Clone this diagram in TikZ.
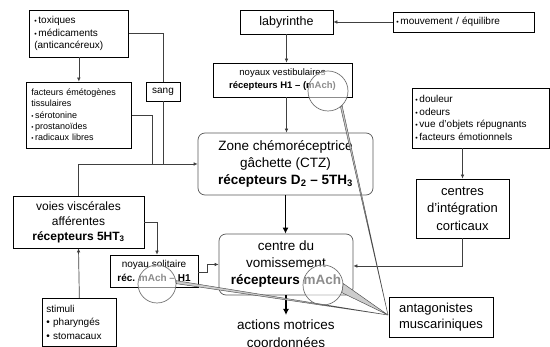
\documentclass[tikz,border=0pt]{standalone}
\usepackage{fontspec}
\setmainfont{Liberation Sans}
\usetikzlibrary{arrows.meta}
\newcommand\bul{\scalebox{0.7}{•}\,}
\newcommand\fs[2]{\fontsize{#1}{#2}\selectfont}

\begin{document}
\begin{tikzpicture}[x=1pt,y=-1pt,
  box/.style={draw=black, line width=0.7pt, inner sep=0pt, align=center, text=black},
  lbox/.style={box, align=left, inner xsep=#1},
  rbox/.style={box, draw=black!65, rounded corners=7pt},
  conn/.style={draw=black!75, line width=0.7pt},
  arr/.style={conn, -{Latex[length=4pt,width=3.6pt]}},
  bigarr/.style={draw=black, line width=1.6pt, -{Latex[length=6pt,width=6pt]}},
  lens/.style={circle, inner sep=0pt, minimum size=#1, draw=black!55, line width=0.7pt,
               fill=white, fill opacity=0.55},
  wedge/.style={draw=black!70, line width=0.45pt, fill=black!20},
]
\fill[white] (0,0) rectangle (550,347);
\useasboundingbox (0,0) rectangle (550,347);

% --- boxes ---------------------------------------------------------------
\node[lbox=5pt, anchor=west, text width=89, minimum height=47, font=\fs{10}{12.5}] (tox) at (29,33.5)
  {\bul toxiques\\ \bul médicaments\\ (anticancéreux)};
\node[lbox=5pt, anchor=west, text width=95, minimum height=66, font=\fs{9}{11.3}] (fact) at (26,115)
  {facteurs émétogènes\\ tissulaires\\ \bul sérotonine\\ \bul prostanoïdes\\ \bul radicaux libres};
\node[box, minimum width=34, minimum height=19, font=\fs{10}{12}] (sang) at (163,91.5) {sang};

\node[box, minimum width=93, minimum height=24, font=\fs{12.5}{15}] (laby) at (286.5,22) {labyrinthe};
\node[lbox=3pt, anchor=west, text width=135, minimum height=20, font=\fs{10}{12}] (mouv) at (393,22)
  {\bul mouvement / équilibre};
\node[box, minimum width=139, minimum height=34, font=\fs{9.5}{13}] (vest) at (282.5,80)
  {noyaux vestibulaires\\ \textbf{récepteurs H1 – (mAch)}};

\node[rbox, minimum width=175, minimum height=62, font=\fs{13.5}{17}] (ctz) at (285.5,164)
  {Zone chémoréceptrice\\ gâchette (CTZ)\\ \textbf{récepteurs D\textsubscript{2} – 5TH\textsubscript{3}}};

\node[lbox=3pt, anchor=west, text width=131, minimum height=60, font=\fs{10}{12.8}] (doul) at (412,118)
  {\bul douleur\\ \bul odeurs\\ \bul vue d'objets répugnants\\ \bul facteurs émotionnels};
\node[box, minimum width=93, minimum height=59, font=\fs{13}{17.5}] (cent) at (462.5,208.5)
  {centres\\ d'intégration\\ corticaux};
\node[box, align=left, minimum width=104, minimum height=40, font=\fs{13}{16}] (anta) at (441,317)
  {antagonistes\\ muscariniques};

\node[rbox, minimum width=134, minimum height=61, font=\fs{13.5}{17}] (cdv) at (286,264.5)
  {centre du\\ vomissement\\ \textbf{récepteurs mAch}};
\node[align=center, inner sep=0pt, anchor=north, font=\fs{13.5}{18}] (act) at (286,320)
  {actions motrices\\ coordonnées};

\node[box, minimum width=131, minimum height=52, font=\fs{12}{15}] (voies) at (78.5,222)
  {voies viscérales\\ afférentes\\ \textbf{récepteurs 5HT\textsubscript{3}}};
\node[box, minimum width=88, minimum height=32, font=\fs{10}{14}] (sol) at (154,271)
  {noyau solitaire\\ \textbf{réc. mAch – H1}};
\node[lbox=4pt, anchor=north west, text width=66, minimum height=48, font=\fs{10}{13.5}] (stim) at (42,298)
  {stimuli\\ • pharyngés\\ • stomacaux};

% --- connectors ----------------------------------------------------------
\coordinate (jf) at (152,164);
\draw[arr] (tox.south) -- (fact.north);
\draw[conn] (tox.east) -| (sang.north);
\draw[conn] (sang.south) -- (sang.south |- ctz.west);
\draw[conn] (fact.east) -| (jf);
\draw[arr] (voies.north) |- (ctz.west);

\draw[arr] (mouv.west) -- (laby.east);
\draw[arr] (laby.south) -- (laby.south |- vest.north);
\draw[arr] (laby.south |- vest.south) -- (laby.south |- ctz.north);
\draw[bigarr] (ctz.south) -- (ctz.south |- cdv.north);
\draw[bigarr, shorten >=5pt] (cdv.south) -- (act.north);

\draw[arr] (voies.east) -| ([xshift=3pt]sol.north);
\draw[arr] (stim.north) -- (voies.south);
\draw[arr] ([yshift=-1pt]sol.east) -- ++(9,0) |- (cdv.west);

\draw[arr] (doul.south -| cent.north) -- (cent.north);
\draw[arr] (cent.south) |- ([yshift=-1.5pt]cdv.east);

% --- lenses over the muscarinic receptors --------------------------------
\node[lens=40] (lv) at (328,91) {};
\node[lens=38] (ls) at (157,284) {};
\node[lens=40] (lc) at (323,285) {};

\coordinate (P) at (388,315);
\filldraw[wedge] (lv.-46) -- (P) -- (lv.-52) -- cycle;
\filldraw[wedge] (lc.4) -- (P) -- (lc.-22) -- cycle;
\filldraw[wedge] (ls.10) -- (P) -- (ls.1) -- cycle;
\end{tikzpicture}
\end{document}
